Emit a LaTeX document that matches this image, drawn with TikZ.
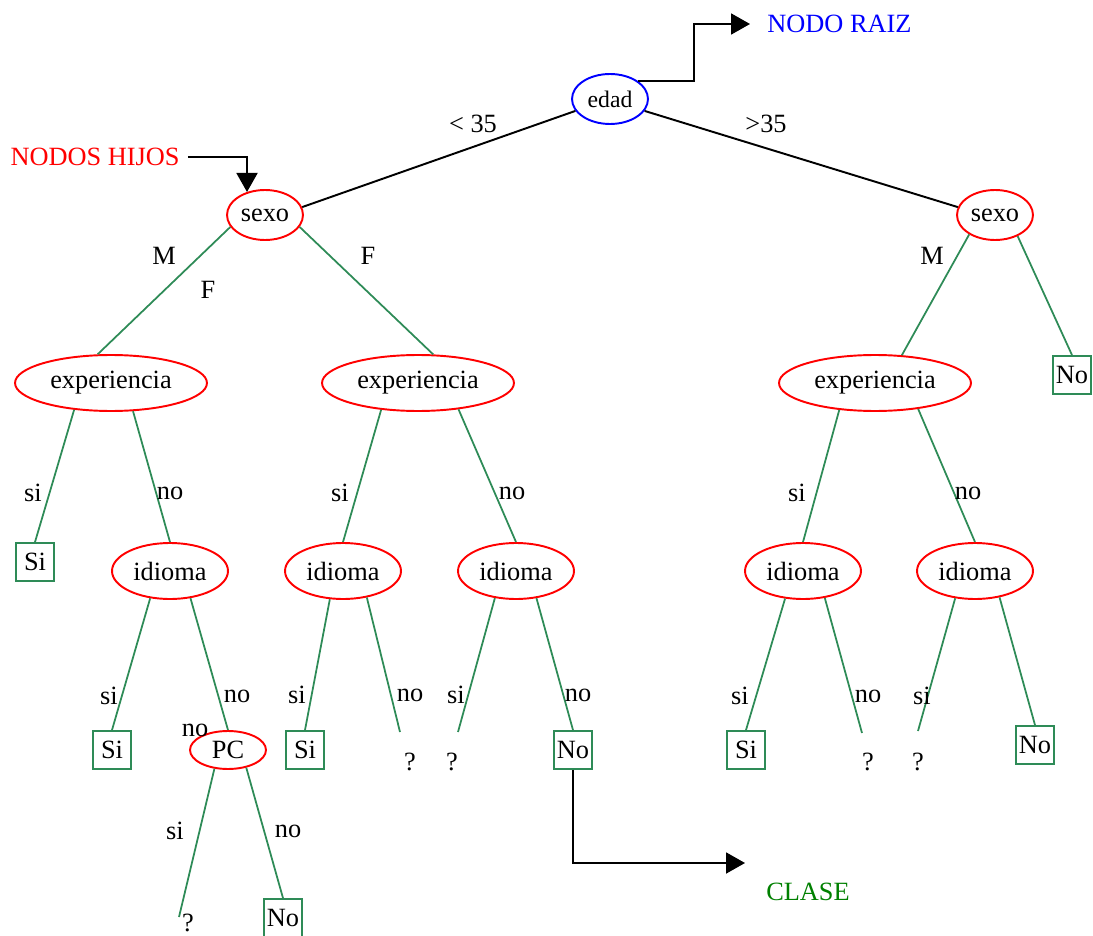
\documentclass[tikz,border=0pt]{standalone}
\usepackage{fontspec}
\setmainfont{Liberation Serif}
\usetikzlibrary{shapes.geometric,arrows.meta}
\definecolor{rama}{RGB}{46,139,87}
\definecolor{verde}{RGB}{0,128,0}

\begin{document}
\begin{tikzpicture}[x=0.02cm,y=-0.02cm,
      font=\fontsize{15}{18}\selectfont,
      raiz/.style={ellipse,draw=blue,line width=1.1pt,minimum width=1.52cm,minimum height=1cm,inner sep=0pt,font=\fontsize{13.5}{16}\selectfont},
      hijo/.style={ellipse,draw=red,line width=1.1pt,inner sep=0pt},
      sexobox/.style={hijo,minimum width=1.52cm,minimum height=1cm},
      expbox/.style={hijo,minimum width=3.84cm,minimum height=1.12cm},
      idibox/.style={hijo,minimum width=2.32cm,minimum height=1.12cm},
      hoja/.style={rectangle,draw=rama,line width=1.1pt,minimum size=0.76cm,inner sep=0pt},
      rama/.style={draw=rama,line width=1pt},
      flecha/.style={draw=black,line width=1.1pt,-{Triangle[length=0.38cm,width=0.42cm]}}]
      \useasboundingbox (0,0) rectangle (1093,936);

      % nodos
      \node[raiz] (edad) at (610,99) {edad};
      \node[sexobox] (sexoL) at (265,215) {sexo};
      \node[sexobox] (sexoR) at (995,215) {sexo};
      \node[expbox] (expL) at (111,383) {experiencia};
      \node[expbox] (expM) at (418,383) {experiencia};
      \node[expbox] (expR) at (875,383) {experiencia};
      \node[idibox] (idLa) at (170,571) {idioma};
      \node[idibox] (idMa) at (343,571) {idioma};
      \node[idibox] (idMb) at (516,571) {idioma};
      \node[idibox] (idRa) at (803,571) {idioma};
      \node[idibox] (idRb) at (975,571) {idioma};
      \node[hijo,minimum width=1.52cm,minimum height=0.76cm] (pc) at (228,750) {PC};

      % hojas
      \node[hoja] (siA) at (35,562) {Si};
      \node[hoja] (siB) at (112,750) {Si};
      \node[hoja] (siC) at (305,750) {Si};
      \node[hoja] (siD) at (746,750) {Si};
      \node[hoja] (noA) at (1072,375) {No};
      \node[hoja] (noB) at (573,750) {No};
      \node[hoja] (noC) at (1035,745) {No};
      \node[hoja] (noD) at (283,918) {No};
      \foreach \x/\y [count=\i] in {188/923,410/762,452/762,868/762,918/762}
      	\node (q\i) at (\x,\y) {?};
      \coordinate (e1) at (179,917);
      \coordinate (e2) at (400,732);
      \coordinate (e3) at (458,732);
      \coordinate (e4) at (862,733);
      \coordinate (e5) at (918,731);

      % ramas
      \draw[line width=1.1pt] (edad.199) -- (sexoL.12);
      \draw[line width=1.1pt] (edad.341) -- (sexoR.168);
      \draw[rama] (sexoL.199) -- (expL.115);
      \draw[rama] (sexoL.341) -- (expM.62);
      \draw[rama] (sexoR.217) -- (expR.46);
      \draw[rama] (sexoR.317) -- (noA.north);
      \draw[rama] (expL.216) -- (siA.north);
      \draw[rama] (expL.308) -- (idLa.north);
      \draw[rama] (expM.216) -- (idMa.north);
      \draw[rama] (expM.327) -- (idMb.north);
      \draw[rama] (expR.217) -- (idRa.north);
      \draw[rama] (expR.329) -- (idRb.north);
      \draw[rama] (idLa.234) -- (siB.north);
      \draw[rama] (idLa.307) -- (pc.north);
      \draw[rama] (idMa.245) -- (siC.north);
      \draw[rama] (idMa.312) -- (e2);
      \draw[rama] (idMb.232) -- (e3);
      \draw[rama] (idMb.307) -- (noB.north);
      \draw[rama] (idRa.237) -- (siD.north);
      \draw[rama] (idRa.309) -- (e4);
      \draw[rama] (idRb.234) -- (e5);
      \draw[rama] (idRb.313) -- (noC.north);
      \draw[rama] (pc.234) -- (e1);
      \draw[rama] (pc.316) -- (noD.north);

      % etiquetas
      \foreach \t/\x/\y [count=\i] in {{< 35}/473/124,>35/766/124,M/164/256,F/208/290,F/368/256,M/932/256,
      	si/33/493,no/170/493,si/340/493,no/512/493,si/797/493,no/968/493,
      	si/109/696,no/237/696,no/195/730,si/297/695,no/410/695,si/456/695,no/578/695,
      	si/740/696,no/868/696,si/922/696,si/175/831,no/288/831}
      	\node (lab\i) at (\x,\y) {\t};

      % flechas
      \node[text=blue,inner sep=0pt,anchor=west] (raizlbl) at (767,24) {NODO RAIZ};
      \draw[flecha] (edad.33) -- ++(56,0) |- ([xshift=-0.34cm]raizlbl.west);
      \node[text=red,inner sep=0pt,anchor=east] (hijoslbl) at (180,157) {NODOS HIJOS};
      \draw[flecha] ([xshift=0.16cm]hijoslbl.east) -| (sexoL.128);
      \node[text=verde,inner sep=0pt] (clase) at (808,892) {CLASE};
      \coordinate (claseTip) at (745,863);
      \draw[flecha] (noB.south) |- (claseTip);
\end{tikzpicture}
\end{document}
